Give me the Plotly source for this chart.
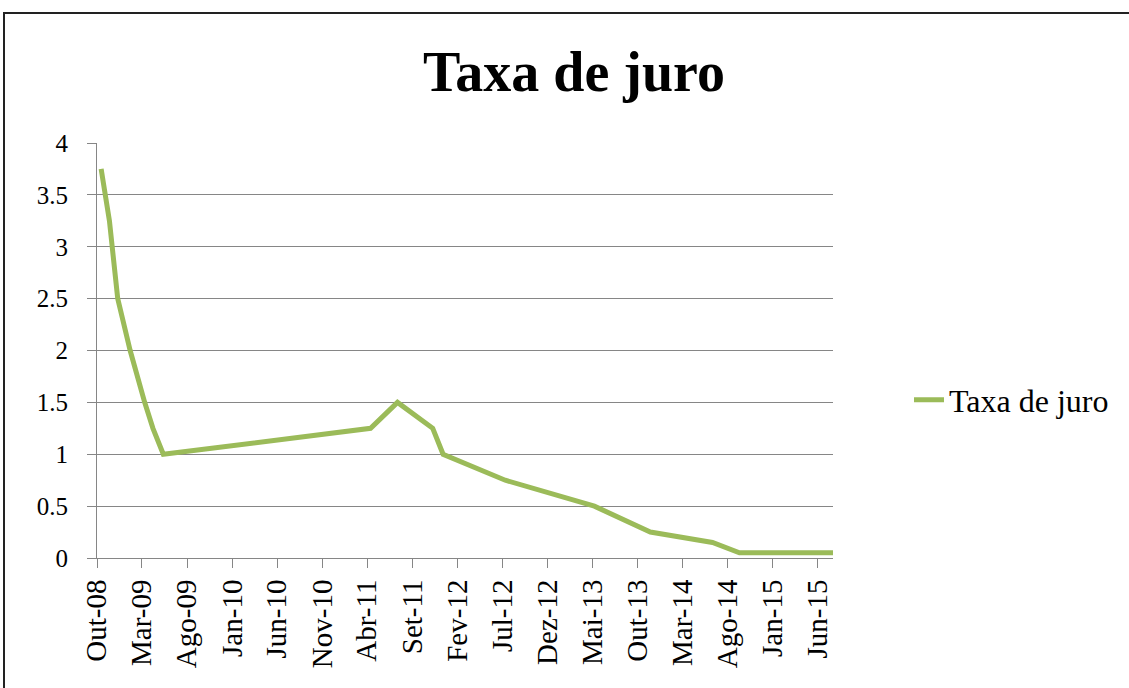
import plotly.graph_objects as go

# Rate change dates and values (Taxa de juro)
dates = ["2008-10-15", "2008-11-12", "2008-12-10", "2009-01-21", "2009-03-11",
         "2009-04-08", "2009-05-13", "2011-04-13", "2011-07-13", "2011-11-09",
         "2011-12-14", "2012-07-11", "2013-05-08", "2013-11-13", "2014-06-11",
         "2014-09-10", "2015-07-23"]
rates = [3.75, 3.25, 2.50, 2.00, 1.50, 1.25, 1.00, 1.25, 1.50, 1.25,
         1.00, 0.75, 0.50, 0.25, 0.15, 0.05, 0.05]

tick_dates = ["2008-10-01", "2009-03-01", "2009-08-01", "2010-01-01", "2010-06-01",
              "2010-11-01", "2011-04-01", "2011-09-01", "2012-02-01", "2012-07-01",
              "2012-12-01", "2013-05-01", "2013-10-01", "2014-03-01", "2014-08-01",
              "2015-01-01", "2015-06-01"]
tick_labels = ["Out-08", "Mar-09", "Ago-09", "Jan-10", "Jun-10", "Nov-10", "Abr-11",
               "Set-11", "Fev-12", "Jul-12", "Dez-12", "Mai-13", "Out-13", "Mar-14",
               "Ago-14", "Jan-15", "Jun-15"]
y_ticks = [0, 0.5, 1, 1.5, 2, 2.5, 3, 3.5, 4]

W, H = 1129, 688
L, R, T, B = 97, 1129 - 833, 143, 688 - 558
pw, ph = W - L - R, H - T - B

def px_x(x):
    return (x - L) / pw

def px_y(y):
    return (H - B - y) / ph

serif = "Liberation Serif, Times New Roman, serif"
grid = "#868686"

fig = go.Figure()
fig.add_trace(go.Scatter(
    x=dates, y=rates, mode="lines", name="Taxa de juro",
    line=dict(color="#9BBB59", width=5),
))

fig.update_layout(
    width=W, height=H,
    margin=dict(l=L, r=R, t=T, b=B),
    paper_bgcolor="white", plot_bgcolor="white",
    font=dict(family=serif, color="black"),
    title=dict(text="<b>Taxa de juro</b>", x=574 / W, xanchor="center",
               xref="container", y=1 - 71 / H, yanchor="middle", yref="container",
               font=dict(size=56, family=serif, color="black")),
    showlegend=True,
    legend=dict(x=px_x(909), y=px_y(400), xanchor="left", yanchor="middle",
                font=dict(size=32, family=serif, color="black"),
                bgcolor="rgba(0,0,0,0)", borderwidth=0),
    xaxis=dict(type="date", range=["2008-10-01", "2015-07-23"],
               tickvals=tick_dates, ticktext=tick_labels, tickangle=-90,
               showgrid=False, showline=True, linecolor=grid, linewidth=1,
               ticks="outside", ticklen=9, tickcolor=grid,
               tickfont=dict(size=29, family=serif, color="black"), zeroline=False),
    yaxis=dict(range=[0, 4], tickvals=y_ticks,
               ticktext=[("%g" % v) for v in y_ticks],
               showgrid=True, gridcolor=grid, gridwidth=1,
               showline=True, linecolor=grid, linewidth=1,
               ticks="outside", ticklen=9, tickcolor=grid, ticklabelstandoff=14,
               tickfont=dict(size=25, family=serif, color="black"), zeroline=False),
    shapes=[dict(type="rect", xref="paper", yref="paper",
                 x0=px_x(4), x1=px_x(1160), y0=px_y(13), y1=px_y(720),
                 line=dict(color="#222222", width=2), fillcolor="rgba(0,0,0,0)",
                 layer="below")],
)

fig.write_html("out.html",
               config={"displayModeBar": False},
               post_script="document.body.style.margin='0';"
                           "document.body.style.overflow='hidden';")
